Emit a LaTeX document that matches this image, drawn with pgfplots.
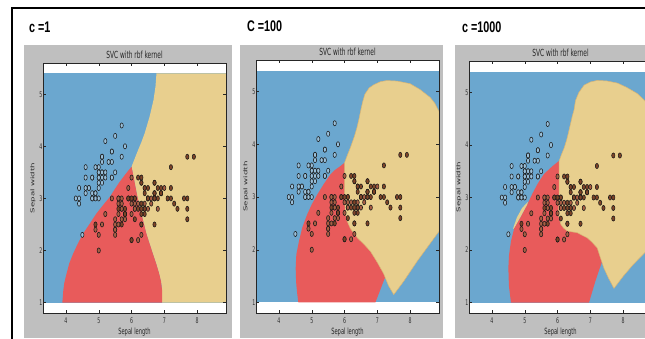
\documentclass[border=0pt]{standalone}
\usepackage{pgfplots}
\pgfplotsset{compat=1.18}
\usepackage{pgfplotstable}
\usepackage{fontspec}
\setmainfont{DejaVu Sans}
\newfontfamily\libsans{Liberation Sans}

\definecolor{regblue}{HTML}{6BA7CF}
\definecolor{regred}{HTML}{E85B5B}
\definecolor{regyel}{HTML}{E8CF8E}
\definecolor{yeledge}{HTML}{D9B574}
\definecolor{panelgrey}{HTML}{BFBFBF}
\definecolor{mset}{HTML}{98BFDA}
\definecolor{mver}{HTML}{A85E44}
\definecolor{mvir}{HTML}{7E4428}

\pgfplotstableread{
x y
5.1 3.5
4.9 3.0
4.7 3.2
4.6 3.1
5.0 3.6
5.4 3.9
4.6 3.4
5.0 3.4
4.4 2.9
4.9 3.1
5.4 3.7
4.8 3.4
4.8 3.0
4.3 3.0
5.8 4.0
5.7 4.4
5.4 3.9
5.1 3.5
5.7 3.8
5.1 3.8
5.4 3.4
5.1 3.7
4.6 3.6
5.1 3.3
4.8 3.4
5.0 3.0
5.0 3.4
5.2 3.5
5.2 3.4
4.7 3.2
4.8 3.1
5.4 3.4
5.2 4.1
5.5 4.2
4.9 3.1
5.0 3.2
5.5 3.5
4.9 3.6
4.4 3.0
5.1 3.4
5.0 3.5
4.5 2.3
4.4 3.2
5.0 3.5
5.1 3.8
4.8 3.0
5.1 3.8
4.6 3.2
5.3 3.7
5.0 3.3
}\setosa

\pgfplotstableread{
x y
7.0 3.2
6.4 3.2
6.9 3.1
5.5 2.3
6.5 2.8
5.7 2.8
6.3 3.3
4.9 2.4
6.6 2.9
5.2 2.7
5.0 2.0
5.9 3.0
6.0 2.2
6.1 2.9
5.6 2.9
6.7 3.1
5.6 3.0
5.8 2.7
6.2 2.2
5.6 2.5
5.9 3.2
6.1 2.8
6.3 2.5
6.1 2.8
6.4 2.9
6.6 3.0
6.8 2.8
6.7 3.0
6.0 2.9
5.7 2.6
5.5 2.4
5.5 2.4
5.8 2.7
6.0 2.7
5.4 3.0
6.0 3.4
6.7 3.1
6.3 2.3
5.6 3.0
5.5 2.5
5.5 2.6
6.1 3.0
5.8 2.6
5.0 2.3
5.6 2.7
5.7 3.0
5.7 2.9
6.2 2.9
5.1 2.5
5.7 2.8
}\versicolor

\pgfplotstableread{
x y
6.3 3.3
5.8 2.7
7.1 3.0
6.3 2.9
6.5 3.0
7.6 3.0
4.9 2.5
7.3 2.9
6.7 2.5
7.2 3.6
6.5 3.2
6.4 2.7
6.8 3.0
5.7 2.5
5.8 2.8
6.4 3.2
6.5 3.0
7.7 3.8
7.7 2.6
6.0 2.2
6.9 3.2
5.6 2.8
7.7 2.8
6.3 2.7
6.7 3.3
7.2 3.2
6.2 2.8
6.1 3.0
6.4 2.8
7.2 3.0
7.4 2.8
7.9 3.8
6.4 2.8
6.3 2.8
6.1 2.6
7.7 3.0
6.3 3.4
6.4 3.1
6.0 3.0
6.9 3.1
6.7 3.1
6.9 3.1
5.8 2.7
6.8 3.2
6.7 3.3
6.7 3.0
6.3 2.5
6.5 3.0
6.2 3.4
5.9 3.0
}\virginica

\pgfplotsset{
  svcpanel/.style={
    scale only axis,
    width=183pt,
    xmin=3.3, xmax=8.88, ymin=0.8, ymax=5.6,
    xtick={4,5,6,7,8}, ytick={1,2,3,4,5},
    tick align=inside, major tick length=3pt,
    axis on top,
    axis line style={black!85, line width=0.6pt},
    tick style={black!85, line width=0.5pt},
    /pgf/number format/assume math mode=true,
    ticklabel style={font=\fontsize{7.8}{8}\selectfont, text=black!80},
    xticklabel style={xscale=0.6, yshift=-4pt, inner sep=1pt},
    yticklabel style={xscale=0.6, inner sep=1pt},
    title={SVC with rbf kernel},
    every axis title/.style={at={(0.5,1)}, anchor=center, yshift=8pt, xscale=0.6,
      font=\fontsize{9.8}{10}\selectfont, text=black!85},
    xlabel={Sepal length}, ylabel={Sepal width},
    every axis x label/.style={at={(axis description cs:0.5,0)}, anchor=center,
      yshift=-19pt, xscale=0.6, font=\fontsize{8.6}{9}\selectfont, text=black!85},
    every axis y label/.style={at={(axis description cs:0,0.5)}, anchor=center,
      xshift=-10pt, rotate=90, yscale=0.6, font=\fontsize{8.6}{9}\selectfont, text=black!85},
    axis background/.style={fill=white},
  },
  pts/.style={only marks, mark=*, mark size=2.6pt,
    mark options={xscale=0.62, draw=black!90, line width=0.55pt, fill=#1}},
  region/.style={draw=none, fill=#1},
}

\begin{document}
\begin{tikzpicture}[x=1pt,y=1pt]
\useasboundingbox (0,0) rectangle (645,338);
\clip (0,0) rectangle (645,338);
\fill[white] (0,0) rectangle (645,338);
\fill[panelgrey] (24,0) rectangle (232,293);
\fill[panelgrey] (240,0) rectangle (443,293);
\fill[panelgrey] (455,0) rectangle (660,293);
\draw[line width=1.8pt] (12,-5) -- (12,330) -- (660,330);
\node[anchor=west, inner sep=0pt, xscale=0.7, font=\libsans\bfseries\fontsize{15.4}{16}\selectfont] at (29,310.5) {c =1};
\node[anchor=west, inner sep=0pt, xscale=0.7, font=\libsans\bfseries\fontsize{15.4}{16}\selectfont] at (247,312) {C =100};
\node[anchor=west, inner sep=0pt, xscale=0.7, font=\libsans\bfseries\fontsize{15.4}{16}\selectfont] at (462,310.5) {c =1000};

% ---------------- C = 1
\begin{axis}[svcpanel, height=250pt, at={(43pt,25pt)}, anchor=south west]
\addplot[region=regblue] coordinates {(3.3,1.0)(8.88,1.0)(8.88,5.4)(3.3,5.4)} -- cycle;
\addplot[region=regyel] coordinates {(6.76,5.4)(6.73,5.15)(6.67,4.89)(6.55,4.57)(6.40,4.25)(6.30,4.08)(6.20,3.93)(6.10,3.77)(6.0,3.61)(6.05,3.45)(6.10,3.29)(6.17,3.06)(6.25,2.84)(6.35,2.58)(6.45,2.33)(6.55,2.13)(6.65,1.94)(6.75,1.75)(6.84,1.56)(6.90,1.40)(6.93,1.24)(6.93,1.0)(8.88,1.0)(8.88,5.4)} -- cycle;
\addplot[region=regred] coordinates {(6.0,3.61)(5.82,3.47)(5.64,3.32)(5.49,3.18)(5.34,3.03)(5.13,2.87)(4.93,2.71)(4.73,2.52)(4.53,2.33)(4.36,2.13)(4.22,1.94)(4.10,1.75)(4.02,1.56)(3.95,1.38)(3.92,1.24)(3.89,1.0)(6.93,1.0)(6.93,1.24)(6.90,1.40)(6.84,1.56)(6.75,1.75)(6.65,1.94)(6.55,2.13)(6.45,2.33)(6.35,2.58)(6.25,2.84)(6.17,3.06)(6.10,3.29)(6.05,3.45)} -- cycle;
\addplot[pts=mset] table {\setosa};
\addplot[pts=mver] table {\versicolor};
\addplot[pts=mvir] table {\virginica};
\end{axis}

% ---------------- C = 100
\begin{axis}[svcpanel, height=253pt, at={(256pt,25pt)}, anchor=south west]
\addplot[region=regblue] coordinates {(3.3,1.0)(8.88,1.0)(8.88,5.4)(3.3,5.4)} -- cycle;
\addplot[region=regred] coordinates {(6.0,3.65)(5.88,3.59)(5.72,3.52)(5.57,3.43)(5.37,3.25)(5.17,3.05)(5.0,2.86)(4.86,2.67)(4.71,2.42)(4.61,2.16)(4.53,1.91)(4.51,1.65)(4.52,1.45)(4.53,1.33)(4.56,1.15)(4.59,1.0)(6.94,1.0)(7.09,1.24)(7.25,1.5)(7.3,1.62)(6.5,2.6)(6.1,3.5)} -- cycle;
\addplot[draw=yeledge, line width=0.5pt, fill=regyel] coordinates {(6.0,3.65)(6.09,3.80)(6.18,3.94)(6.30,4.15)(6.38,4.32)(6.44,4.48)(6.50,4.66)(6.55,4.80)(6.62,4.95)(6.75,5.07)(6.89,5.13)(7.1,5.19)(7.29,5.21)(7.6,5.20)(8.0,5.15)(8.3,5.04)(8.61,4.89)(8.75,4.78)(8.88,4.62)(8.88,2.35)(8.55,2.07)(8.21,1.78)(7.80,1.40)(7.50,1.15)(7.34,1.32)(7.19,1.55)(7.0,1.76)(6.79,1.97)(6.6,2.1)(6.4,2.22)(6.18,2.40)(6.06,2.57)(6.02,2.75)(6.0,3.0)(6.0,3.3)} -- cycle;
\addplot[pts=mset] table {\setosa};
\addplot[pts=mver] table {\versicolor};
\addplot[pts=mvir] table {\virginica};
\end{axis}

% ---------------- C = 1000
\begin{axis}[svcpanel, height=252pt, at={(469pt,25pt)}, anchor=south west]
\addplot[region=regblue] coordinates {(3.3,1.0)(8.88,1.0)(8.88,5.4)(3.3,5.4)} -- cycle;
\addplot[region=regred] coordinates {(6.05,3.70)(5.85,3.6)(5.59,3.45)(5.40,3.27)(5.23,3.07)(5.08,2.87)(4.85,2.6)(4.68,2.42)(4.58,2.17)(4.52,1.9)(4.5,1.66)(4.51,1.45)(4.52,1.3)(4.55,1.15)(4.58,1.0)(6.96,1.0)(7.15,1.4)(7.35,1.77)(7.5,1.95)(6.5,2.6)(6.15,3.5)} -- cycle;
\addplot[draw=yeledge, line width=0.5pt, fill=regyel] coordinates {(6.05,3.70)(6.12,3.82)(6.2,3.94)(6.28,4.1)(6.35,4.28)(6.45,4.55)(6.5,4.66)(6.55,4.85)(6.65,5.0)(6.81,5.14)(7.0,5.2)(7.21,5.23)(7.5,5.22)(7.82,5.18)(8.1,5.1)(8.43,4.98)(8.65,4.85)(8.88,4.65)(8.88,2.1)(8.63,1.93)(8.3,1.72)(8.0,1.5)(7.72,1.27)(7.55,1.47)(7.41,1.66)(7.21,2.04)(7.05,2.15)(6.91,2.23)(6.6,2.33)(6.3,2.36)(6.18,2.42)(6.1,2.49)(6.02,2.68)(6.04,2.85)(6.05,3.0)(6.05,3.4)} -- cycle;
\addplot[region=regyel] coordinates {(4.64,2.40)(4.76,2.62)(4.92,2.80)(5.10,2.92)(5.07,2.86)(4.86,2.62)(4.68,2.42)} -- cycle;
\addplot[pts=mset] table {\setosa};
\addplot[pts=mver] table {\versicolor};
\addplot[pts=mvir] table {\virginica};
\end{axis}
\end{tikzpicture}
\end{document}
